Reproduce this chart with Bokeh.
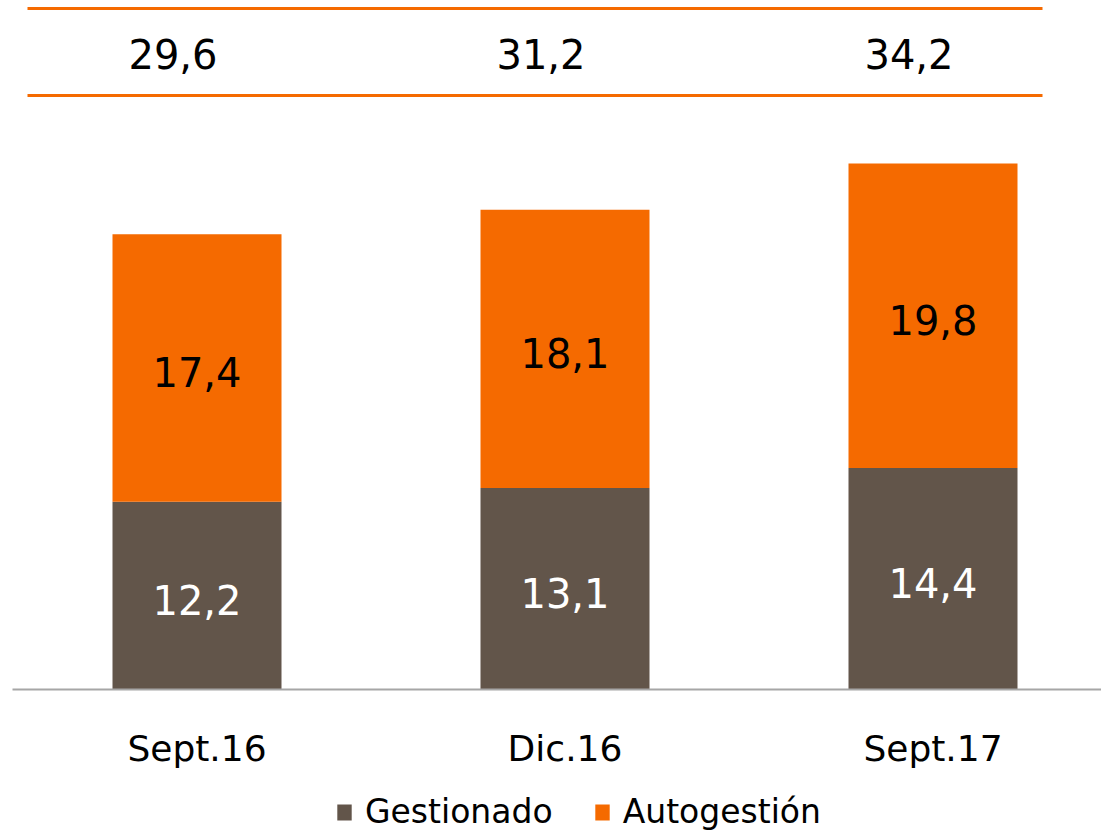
from bokeh.plotting import figure
from bokeh.models import ColumnDataSource, Range1d, Legend, LegendItem
from bokeh.core.properties import value
from bokeh.embed import file_html
from bokeh.resources import INLINE

# ---- data ----
categories = ["Sept.16", "Dic.16", "Sept.17"]
gestionado = [12.2, 13.1, 14.4]
autogestion = [17.4, 18.1, 19.8]
series_names = ["Gestionado", "Autogestión"]

# ---- style ----
BROWN = "#62554A"
ORANGE = "#F56A00"
FONT = "DejaVu Sans"

def fmt(v):
    return f"{v:.1f}".replace(".", ",")

x = list(range(len(categories)))
totals = [g + a for g, a in zip(gestionado, autogestion)]
src = ColumnDataSource(dict(
    x=x,
    cat=categories,
    g=gestionado,
    a=autogestion,
    g_mid=[g / 2 for g in gestionado],
    a_mid=[g + a / 2 for g, a in zip(gestionado, autogestion)],
    g_lbl=[fmt(v) for v in gestionado],
    a_lbl=[fmt(v) for v in autogestion],
    t_lbl=[fmt(v) for v in totals],
))

# layout constants (pixel geometry converted to data units)
PX_PER_X = 368.0
PX_PER_Y = 15.38
W, H = 1101, 831
BASE_Y = 689
FIRST_CX = 196.5
x_start = -FIRST_CX / PX_PER_X
x_end = x_start + W / PX_PER_X
y_end = BASE_Y / PX_PER_Y
y_start = -(H - BASE_Y) / PX_PER_Y

p = figure(width=W, height=H, output_backend="svg", toolbar_location=None,
           x_range=Range1d(x_start, x_end), y_range=Range1d(y_start, y_end),
           x_axis_location=None, y_axis_location=None,
           min_border_left=0, min_border_right=0, min_border_top=0, min_border_bottom=0)
p.outline_line_color = None
p.grid.visible = False
p.background_fill_color = "white"

bars = p.vbar_stack(["g", "a"], x="x", width=169 / PX_PER_X, color=[BROWN, ORANGE],
                    line_color=None, source=src)

p.text(x="x", y="g_mid", text="g_lbl", source=src, text_align="center",
       text_baseline="middle", text_color="white", text_font=value(FONT),
       text_font_size="40px", y_offset=4)
p.text(x="x", y="a_mid", text="a_lbl", source=src, text_align="center",
       text_baseline="middle", text_color="black", text_font=value(FONT),
       text_font_size="40px", y_offset=4)

# baseline (category axis line), starting a little right of the left edge
base_left = (12 - FIRST_CX) / PX_PER_X
p.segment(x0=[base_left], x1=[x_end], y0=[0], y1=[0], line_color="#A6A6A6", line_width=2)

# category labels
y_cat = -(748 - BASE_Y) / PX_PER_Y
p.text(x="x", y=y_cat, text="cat", source=src, text_align="center",
       text_baseline="alphabetic", text_color="black", text_font=value(FONT),
       text_font_size="36px")

# header band with totals
line_left = (27 - FIRST_CX) / PX_PER_X
line_right = (1042 - FIRST_CX) / PX_PER_X
y_line_top = (BASE_Y - 8) / PX_PER_Y
y_line_bot = (BASE_Y - 95) / PX_PER_Y
y_totals = (BASE_Y - 53) / PX_PER_Y
p.segment(x0=[line_left, line_left], x1=[line_right, line_right],
          y0=[y_line_top, y_line_bot], y1=[y_line_top, y_line_bot],
          line_color=ORANGE, line_width=3)
p.text(x="x", y=y_totals, text="t_lbl", source=src, text_align="center",
       text_baseline="middle", text_color="black", text_font=value(FONT),
       text_font_size="40px", x_offset=-24)

legend = Legend(items=[LegendItem(label=series_names[0], renderers=[bars[0]]),
                       LegendItem(label=series_names[1], renderers=[bars[1]])],
                orientation="horizontal", location=(335, 0),
                border_line_color=None, background_fill_alpha=0,
                label_text_font=FONT, label_text_font_size="33px",
                label_text_color="black",
                glyph_width=18, glyph_height=20, spacing=40, padding=0, margin=0,
                label_standoff=12)
p.add_layout(legend, "center")

open("out.html", "w").write(file_html(p, INLINE))
